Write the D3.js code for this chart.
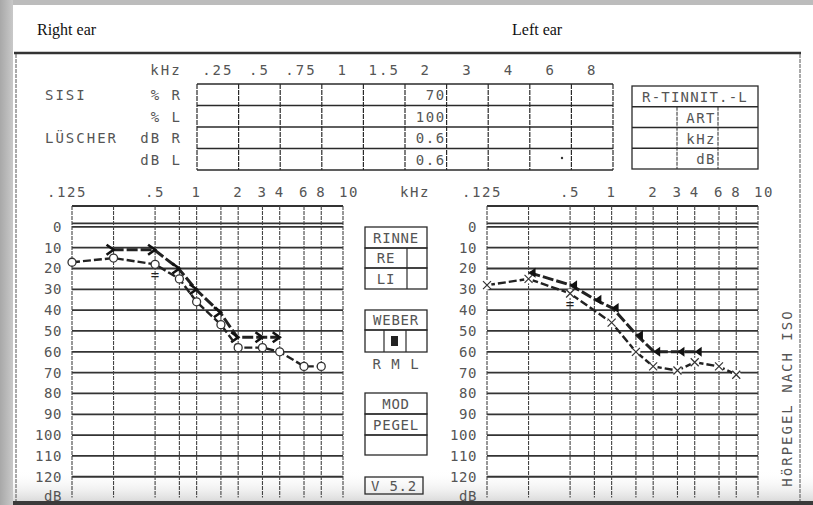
<!DOCTYPE html>
<html>
<head>
<meta charset="utf-8">
<script src="https://cdn.jsdelivr.net/npm/d3@7"></script>
<style>
    body { margin: 0; background: #fff; }
    svg { display: block; }
    .dot { font-family: "DejaVu Sans Mono", monospace; fill: #555; }
</style>
</head>
<body>
<svg id="chart" width="813" height="505"></svg>
<script>
// Audiogram data (kHz, dB HL)
const rightAir = [[0.125, 17], [0.25, 15], [0.5, 18], [0.75, 25], [1, 36], [1.5, 47], [2, 58], [3, 58], [4, 60], [6, 67], [8, 67]];
const rightBone = [[0.25, 11], [0.5, 11], [0.75, 20], [1, 30], [1.5, 41], [2, 53], [3, 53], [4, 53]];
const leftAir = [[0.125, 28], [0.25, 25], [0.5, 32], [1, 46], [1.5, 60], [2, 67], [3, 69], [4, 65], [6, 67], [8, 71]];
const leftBone = [[0.25, 22], [0.5, 28], [0.75, 35], [1, 39], [1.5, 52], [2, 60], [3, 60], [4, 60]];

const freqLabels = [0.125, 0.5, 1, 2, 3, 4, 6, 8, 10];
const gridFreqs = [0.25, 0.5, 0.75, 1, 1.5, 2, 3, 4, 6, 8];
const dbTicks = [0, 10, 20, 30, 40, 50, 60, 70, 80, 90, 100, 110, 120];
const dbGrid = [10, 20, 30, 40, 50, 60, 70, 80, 90, 100, 110, 120];

// SISI / Luscher table
const tableFreqs = [".25", ".5", ".75", "1", "1.5", "2", "3", "4", "6", "8"];
const tableRows = ["% R", "% L", "dB R", "dB L"];
const tableGroups = [["SISI", 0], ["LÜSCHER", 2]];
const tableValues = ["70", "100", "0.6", "0.6"];
const tinnitusRows = ["ART", "kHz", "dB"];

const svg = d3.select("#chart");
const ink = "#2a2a2a";

// scan background: grey edges, white paper
svg.append("rect").attr("width", 813).attr("height", 505).attr("fill", "#bcbcbc");
const defs = svg.append("defs");
const edge = defs.append("linearGradient").attr("id", "edge").attr("x1", 0).attr("x2", 1);
edge.append("stop").attr("offset", 0).attr("stop-color", "#a8a8a8");
edge.append("stop").attr("offset", 1).attr("stop-color", "#c9c9c9");
svg.append("rect").attr("x", 0).attr("y", 0).attr("width", 13).attr("height", 505).attr("fill", "url(#edge)");
svg.append("rect").attr("x", 13).attr("y", 5).attr("width", 800).attr("height", 500).attr("fill", "#fff");

const smudge = defs.append("linearGradient").attr("id", "smudge").attr("x1", 0).attr("x2", 0).attr("y1", 0).attr("y2", 1);
smudge.append("stop").attr("offset", 0).attr("stop-color", "#fff").attr("stop-opacity", 0);
smudge.append("stop").attr("offset", 1).attr("stop-color", "#cfcfcf").attr("stop-opacity", 0.8);
svg.append("rect").attr("x", 13).attr("y", 470).attr("width", 800).attr("height", 32).attr("fill", "url(#smudge)");

// headings
svg.append("text").attr("x", 37).attr("y", 35)
    .style("font-family", "'Liberation Serif', serif").style("font-size", "16px").attr("fill", "#111")
    .text("Right ear");
svg.append("text").attr("x", 512).attr("y", 35)
    .style("font-family", "'Liberation Serif', serif").style("font-size", "16px").attr("fill", "#111")
    .text("Left ear");

// form frame
svg.append("line").attr("x1", 14).attr("x2", 801).attr("y1", 53).attr("y2", 53)
    .attr("stroke", "#333").attr("stroke-width", 2.5);
[16, 800].forEach(x => {
    svg.append("line").attr("x1", x).attr("x2", x).attr("y1", 54).attr("y2", 502)
        .attr("stroke", "#555").attr("stroke-width", 1).attr("stroke-dasharray", "4,1");
});
svg.append("rect").attr("x", 13).attr("y", 501).attr("width", 800).attr("height", 4).attr("fill", "#3a3a3a");

function dotText(g, x, y, txt, anchor, size, spacing) {
    return g.append("text").attr("class", "dot")
        .attr("x", x).attr("y", y)
        .attr("text-anchor", anchor || "start")
        .style("font-size", (size || 14) + "px")
        .style("letter-spacing", (spacing === undefined ? 2 : spacing) + "px")
        .text(txt);
}

// ---------- SISI / Luscher table ----------
const table = svg.append("g");
const col = d3.scaleBand().domain(tableFreqs).range([197, 613]);
const row = d3.scaleBand().domain(tableRows).range([84, 170]);

dotText(table, 166, 75, "kHz", "middle");
tableFreqs.forEach(f => dotText(table, col(f) + col.bandwidth() / 2, 75, f, "middle"));
tableRows.forEach(r => dotText(table, 182, row(r) + 16, r, "end"));
tableGroups.forEach(([name, i]) => dotText(table, 45, row(tableRows[i]) + 16, name));

col.domain().concat([null]).forEach(f => {
    const x = f === null ? 613 : col(f);
    table.append("line").attr("x1", x).attr("x2", x).attr("y1", 84).attr("y2", 170)
        .attr("stroke", ink).attr("stroke-width", 1.2).attr("stroke-dasharray", "5,1");
});
d3.range(5).forEach(i => {
    const y = 84 + i * row.bandwidth();
    table.append("line").attr("x1", 197).attr("x2", 613).attr("y1", y).attr("y2", y)
        .attr("stroke", ink).attr("stroke-width", 1.6);
});
tableRows.forEach((r, i) => {
    dotText(table, col("2") + col.bandwidth() - 1, row(r) + 16, tableValues[i], "end", 14, 1.5);
});
table.append("circle").attr("cx", 562).attr("cy", 158).attr("r", 1.2).attr("fill", "#333");

// tinnitus box
const tin = svg.append("g");
const tinRow = d3.scaleBand().domain(["head"].concat(tinnitusRows)).range([86, 169]);
tin.append("rect").attr("x", 632).attr("y", 86).attr("width", 126).attr("height", 83)
    .attr("fill", "none").attr("stroke", ink).attr("stroke-width", 1.3);
tinnitusRows.forEach(r => {
    const y = tinRow(r);
    tin.append("line").attr("x1", 632).attr("x2", 758).attr("y1", y).attr("y2", y)
        .attr("stroke", ink).attr("stroke-width", 1.3);
    dotText(tin, 716, y + 16, r, "end", 14, 1.5);
});
[677, 718].forEach(x => {
    tin.append("line").attr("x1", x).attr("x2", x).attr("y1", tinRow("ART")).attr("y2", 169)
        .attr("stroke", ink).attr("stroke-width", 1).attr("stroke-dasharray", "4,1");
});
dotText(tin, 695, tinRow("head") + 16, "R-TINNIT.-L", "middle", 14, 1.2);

// ---------- audiograms ----------
const y = d3.scaleLinear().domain([-10, 130]).range([206, 497.6]);

function drawAudiogram(x0, air, bone, airKind, boneKind) {
    const g = svg.append("g");
    const x = d3.scaleLog().domain([0.125, 11.5]).range([x0, x0 + 271]);
    const [xl, xr] = x.range();

    // horizontal grid
    dbGrid.forEach(d => {
        g.append("line").attr("x1", xl).attr("x2", xr).attr("y1", y(d)).attr("y2", y(d))
            .attr("stroke", "#333").attr("stroke-width", 1.8);
    });
    [y(0), y(0) - 3.5, y(-10)].forEach(v => {
        g.append("line").attr("x1", xl).attr("x2", xr).attr("y1", v).attr("y2", v)
            .attr("stroke", "#333").attr("stroke-width", 1.8);
    });
    // vertical grid
    [0.125].concat(gridFreqs, [11.5]).forEach(f => {
        g.append("line").attr("x1", x(f)).attr("x2", x(f)).attr("y1", y(-10)).attr("y2", y(130))
            .attr("stroke", "#444").attr("stroke-width", 1.1).attr("stroke-dasharray", "4,1");
    });

    // axis labels
    freqLabels.forEach(f => {
        let px = x(f);
        if (f === 0.125) px -= 5;
        if (f === 10) px = xr + 6;
        dotText(g, px, 197, f < 1 ? String(f).replace(/^0/, "") : String(f), "middle", 14, 1.6);
    });
    dbTicks.forEach(d => dotText(g, x0 - 10, y(d) + 5, String(d), "end", 14, 0.6));
    dotText(g, x0 - 10, 501, "dB", "end", 14, 0.6);

    const line = d3.line().x(d => x(d[0])).y(d => y(d[1]));

    // "=" mark at 0.5 kHz, drawn under the curves
    const mark = air.find(d => d[0] === 0.5);
    g.append("text").attr("class", "dot").attr("x", x(0.5)).attr("y", y(mark[1]) + 16)
        .attr("text-anchor", "middle").style("font-size", "14px").style("fill", "#222").text("=");

    // bone conduction
    g.append("path").attr("d", line(bone.map(d => [d[0] * (boneKind === "right" ? 0.985 : 1.015), d[1]])))
        .attr("fill", "none").attr("stroke", "#222").attr("stroke-width", 3)
        .attr("stroke-dasharray", "11,3");
    bone.forEach(d => {
        const px = x(d[0]), py = y(d[1]);
        if (boneKind === "right") {
            g.append("path").attr("d", `M${px - 7},${py - 5}L${px},${py}L${px - 7},${py + 5}`)
                .attr("fill", "none").attr("stroke", "#111").attr("stroke-width", 2.6);
        } else {
            g.append("path").attr("d", `M${px},${py}L${px + 7},${py - 5}L${px + 7},${py + 5}Z`)
                .attr("fill", "#111");
        }
    });

    // air conduction
    g.append("path").attr("d", line(air))
        .attr("fill", "none").attr("stroke", "#222").attr("stroke-width", 2.4)
        .attr("stroke-dasharray", "8,3");
    air.forEach(d => {
        const px = x(d[0]), py = y(d[1]);
        if (airKind === "circle") {
            g.append("circle").attr("cx", px).attr("cy", py).attr("r", 4)
                .attr("fill", "#fff").attr("stroke", "#333").attr("stroke-width", 1.3);
        } else {
            g.append("circle").attr("cx", px).attr("cy", py).attr("r", 4.5).attr("fill", "#fff");
            g.append("path").attr("d", `M${px - 4},${py - 4}L${px + 4},${py + 4}M${px - 4},${py + 4}L${px + 4},${py - 4}`)
                .attr("stroke", "#333").attr("stroke-width", 1.2);
        }
    });
}

drawAudiogram(72, rightAir, rightBone, "circle", "right");
drawAudiogram(487, leftAir, leftBone, "x", "left");

dotText(svg, 415, 197, "kHz", "middle", 14, 1.6);

// ---------- middle boxes ----------
const mid = svg.append("g");
function box(x, y0, w, rows) {
    let yy = y0;
    rows.forEach(r => {
        mid.append("rect").attr("x", x).attr("y", yy).attr("width", w).attr("height", r.h)
            .attr("fill", "none").attr("stroke", ink).attr("stroke-width", 1.3);
        if (r.split) {
            r.split.forEach(sx => {
                mid.append("line").attr("x1", sx).attr("x2", sx).attr("y1", yy).attr("y2", yy + r.h)
                    .attr("stroke", ink).attr("stroke-width", 1.2);
            });
        }
        if (r.text) dotText(mid, r.tx || x + w / 2, yy + r.h / 2 + 5, r.text, "middle", 14, 0.8);
        yy += r.h;
    });
}
box(365, 227, 62, [{h: 21, text: "RINNE"}, {h: 20, text: "RE", tx: 386, split: [407]}, {h: 21, text: "LI", tx: 386, split: [407]}]);
box(365, 310, 62, [{h: 20, text: "WEBER"}, {h: 22, split: [384, 406]}]);
mid.append("rect").attr("x", 391).attr("y", 336).attr("width", 7).attr("height", 10).attr("fill", "#222");
dotText(mid, 396, 369, "R M L", "middle", 14, 1);
box(365, 393, 62, [{h: 21, text: "MOD"}, {h: 21, text: "PEGEL"}, {h: 20}]);
box(365, 477, 58, [{h: 17, text: "V 5.2"}]);

// vertical caption
svg.append("text").attr("class", "dot")
    .attr("transform", "translate(792,398) rotate(-90)")
    .attr("text-anchor", "middle")
    .style("font-size", "14px").style("letter-spacing", "2px")
    .text("HöRPEGEL NACH ISO");
</script>
</body>
</html>
